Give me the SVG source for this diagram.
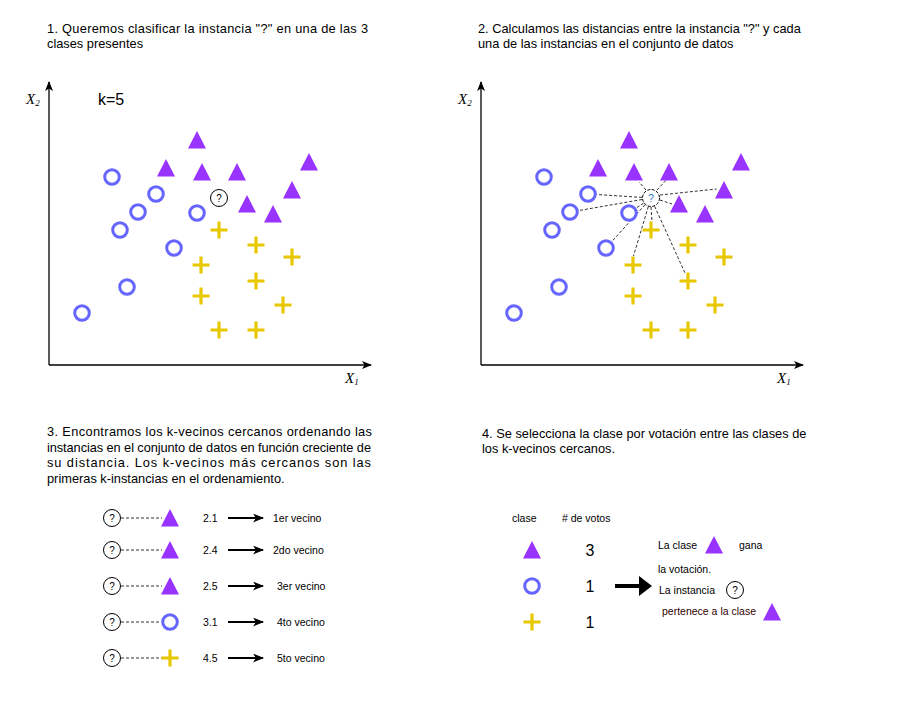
<svg xmlns="http://www.w3.org/2000/svg" width="904" height="707" viewBox="0 0 904 707">
<style>
text{font-family:"Liberation Sans",Arial,sans-serif;fill:#000}
.h{font-size:12.8px}
.s{font-size:10.5px}
.ax{font-family:"Liberation Serif","Times New Roman",serif;font-style:italic;font-size:15px}
.sub{font-size:9px;font-style:italic}
.axis{stroke:#000;stroke-width:1.3;fill:none}
.d{stroke:#333;stroke-width:1;stroke-dasharray:3 2;fill:none}
.arr{stroke:#000;stroke-width:2;fill:none}
</style>
<defs>
<marker id="ah" viewBox="0 0 10 8" refX="9" refY="4" markerWidth="10" markerHeight="8" markerUnits="userSpaceOnUse" orient="auto">
<path d="M0,0 L10,4 L0,8 L2.5,4 Z" fill="#000"/>
</marker>
<marker id="ahs" viewBox="0 0 10 8" refX="9" refY="4" markerWidth="11" markerHeight="9" markerUnits="userSpaceOnUse" orient="auto">
<path d="M0,0 L10,4 L0,8 L2.5,4 Z" fill="#000"/>
</marker>
<path id="tri" d="M0,-9 L9,8.5 L-9,8.5 Z" fill="#9933FF"/>
<circle id="circ" r="7.3" fill="none" stroke="#6666FF" stroke-width="3"/>
<path id="plus" d="M-8.5,0 H8.5 M0,-8.5 V8.5" stroke="#E6C700" stroke-width="3.2" fill="none"/>
<g id="q"><circle r="8.5" fill="#fff" stroke="#000" stroke-width="1"/><text y="3.5" font-size="10" text-anchor="middle">?</text></g>
</defs>
<rect width="904" height="707" fill="#fff"/>

<!-- Headers -->
<g id="text1">
<text class="h" x="47" y="33" textLength="321" lengthAdjust="spacing">1. Queremos clasificar la instancia "?" en una de las 3</text>
<text class="h" x="47" y="48">clases presentes</text>
</g>
<g id="text2">
<text class="h" x="478" y="33">2. Calculamos las distancias entre la instancia "?" y cada</text>
<text class="h" x="478" y="48">una de las instancias en el conjunto de datos</text>
</g>
<g id="text3">
<text class="h" x="47" y="436" textLength="325" lengthAdjust="spacing">3. Encontramos los k-vecinos cercanos ordenando las</text>
<text class="h" x="47" y="452" textLength="324" lengthAdjust="spacing">instancias en el conjunto de datos en función creciente de</text>
<text class="h" x="47" y="467" textLength="324" lengthAdjust="spacing">su distancia. Los k-vecinos más cercanos son las</text>
<text class="h" x="47" y="483">primeras k-instancias en el ordenamiento.</text>
</g>
<g id="text4">
<text class="h" x="482" y="438">4. Se selecciona la clase por votación entre las clases de</text>
<text class="h" x="482" y="453">los k-vecinos cercanos.</text>
</g>

<!-- Panel 1 -->
<g id="axes1">
<path class="axis" d="M49,365 V82" marker-end="url(#ah)"/>
<path class="axis" d="M49,365 H371" marker-end="url(#ah)"/>
<text class="ax" x="26" y="104">X<tspan class="sub" dy="2">2</tspan></text>
<text class="ax" x="345" y="383">X<tspan class="sub" dy="2">1</tspan></text>
<text x="98" y="105" font-size="16">k=5</text>
</g>
<g id="p1-tri">
<use href="#tri" x="197" y="140"/><use href="#tri" x="166" y="168"/><use href="#tri" x="202" y="172"/><use href="#tri" x="237" y="172"/>
<use href="#tri" x="309" y="162"/><use href="#tri" x="292" y="190"/><use href="#tri" x="247" y="204"/><use href="#tri" x="273" y="214"/>
</g>
<g id="p1-circ">
<use href="#circ" x="112" y="177"/><use href="#circ" x="156" y="194"/><use href="#circ" x="138" y="212"/><use href="#circ" x="120" y="230"/>
<use href="#circ" x="197" y="213"/><use href="#circ" x="174" y="248"/><use href="#circ" x="127" y="287"/><use href="#circ" x="82" y="313"/>
</g>
<g id="p1-plus">
<use href="#plus" x="219" y="230"/><use href="#plus" x="256" y="245"/><use href="#plus" x="292" y="257"/><use href="#plus" x="201" y="265"/>
<use href="#plus" x="256" y="281"/><use href="#plus" x="201" y="296"/><use href="#plus" x="283" y="305"/><use href="#plus" x="219" y="330"/><use href="#plus" x="256" y="330"/>
</g>
<g id="p1-q"><use href="#q" x="219" y="198"/></g>

<!-- Panel 2 -->
<g id="axes2">
<path class="axis" d="M481,365 V82" marker-end="url(#ah)"/>
<path class="axis" d="M481,365 H803" marker-end="url(#ah)"/>
<text class="ax" x="458" y="104">X<tspan class="sub" dy="2">2</tspan></text>
<text class="ax" x="777" y="383">X<tspan class="sub" dy="2">1</tspan></text>
</g>
<g id="connectors2">
<path class="d" d="M642,197.4 L596.5,194.5"/>
<path class="d" d="M642.1,199.5 L578.4,210.6"/>
<path class="d" d="M643.6,203.1 L636,208.2"/>
<path class="d" d="M645,204.7 L611.7,241.7"/>
<path class="d" d="M648.3,206.6 L633.5,256"/>
<path class="d" d="M654.6,206.3 L685,273"/>
<path class="d" d="M651,207 L652,222"/>
<path class="d" d="M646,190 L639,182"/>
<path class="d" d="M657,190 L669,177"/>
<path class="d" d="M660,195 L716.5,189"/>
<path class="d" d="M660,200 L672,204"/>
</g>
<g id="p2-tri">
<use href="#tri" x="629" y="140"/><use href="#tri" x="598" y="168"/><use href="#tri" x="634" y="172"/><use href="#tri" x="669" y="172"/>
<use href="#tri" x="741" y="162"/><use href="#tri" x="724" y="190"/><use href="#tri" x="679" y="204"/><use href="#tri" x="705" y="214"/>
</g>
<g id="p2-circ">
<use href="#circ" x="544" y="177"/><use href="#circ" x="588" y="194"/><use href="#circ" x="570" y="212"/><use href="#circ" x="552" y="230"/>
<use href="#circ" x="629" y="213"/><use href="#circ" x="606" y="248"/><use href="#circ" x="559" y="287"/><use href="#circ" x="514" y="313"/>
</g>
<g id="p2-plus">
<use href="#plus" x="651" y="230"/><use href="#plus" x="688" y="245"/><use href="#plus" x="724" y="257"/><use href="#plus" x="633" y="265"/>
<use href="#plus" x="688" y="281"/><use href="#plus" x="633" y="296"/><use href="#plus" x="715" y="305"/><use href="#plus" x="651" y="330"/><use href="#plus" x="688" y="330"/>
</g>
<g id="p2-q"><circle cx="651" cy="198" r="8.5" fill="#fff" stroke="#000" stroke-width="1" stroke-dasharray="3 1.5"/><text x="651" y="201.5" font-size="10" text-anchor="middle" style="fill:#1a6fc0">?</text></g>

<!-- Panel 3 -->
<g id="connectors3">
<path class="d" d="M121,518 H162"/><path class="d" d="M121,550 H162"/><path class="d" d="M121,586 H162"/><path class="d" d="M121,622 H161"/><path class="d" d="M121,658 H162"/>
<path class="arr" d="M228,518 H263" marker-end="url(#ahs)"/>
<path class="arr" d="M228,550 H263" marker-end="url(#ahs)"/>
<path class="arr" d="M228,586 H263" marker-end="url(#ahs)"/>
<path class="arr" d="M228,622 H263" marker-end="url(#ahs)"/>
<path class="arr" d="M228,658 H263" marker-end="url(#ahs)"/>
</g>
<g id="row1"><use href="#q" x="112" y="518"/><use href="#tri" x="170" y="518"/><text class="s" x="203" y="522">2.1</text><text class="s" x="273" y="522">1er vecino</text></g>
<g id="row2"><use href="#q" x="112" y="550"/><use href="#tri" x="170" y="550"/><text class="s" x="203" y="554">2.4</text><text class="s" x="273" y="554">2do vecino</text></g>
<g id="row3"><use href="#q" x="112" y="586"/><use href="#tri" x="170" y="586"/><text class="s" x="203" y="590">2.5</text><text class="s" x="277" y="590">3er vecino</text></g>
<g id="row4"><use href="#q" x="112" y="622"/><use href="#circ" x="170" y="622"/><text class="s" x="203" y="626">3.1</text><text class="s" x="277" y="626">4to vecino</text></g>
<g id="row5"><use href="#q" x="112" y="658"/><use href="#plus" x="170" y="658"/><text class="s" x="203" y="662">4.5</text><text class="s" x="277" y="662">5to vecino</text></g>

<!-- Panel 4 -->
<g id="votes">
<text class="s" x="512" y="522">clase</text>
<text class="s" x="562" y="522"># de votos</text>
<use href="#tri" x="532" y="550"/><text x="590" y="556" font-size="16" text-anchor="middle">3</text>
<use href="#circ" x="532" y="586"/><text x="590" y="592" font-size="16" text-anchor="middle">1</text>
<use href="#plus" x="532" y="622"/><text x="590" y="628" font-size="16" text-anchor="middle">1</text>
</g>
<g id="bigarrow"><path d="M615,584 H639 V576 L652,586 L639,596 V588 H615 Z" fill="#000"/></g>
<g id="result">
<text class="s" x="658" y="549">La clase</text>
<use href="#tri" x="714" y="545"/>
<text class="s" x="739" y="549">gana</text>
<text class="s" x="658" y="573">la votación.</text>
<text class="s" x="659" y="594">La instancia</text>
<use href="#q" x="735" y="590"/>
<text class="s" x="662" y="615" style="fill:#330000">pertenece a la clase</text>
<use href="#tri" x="772" y="612"/>
</g>
</svg>
